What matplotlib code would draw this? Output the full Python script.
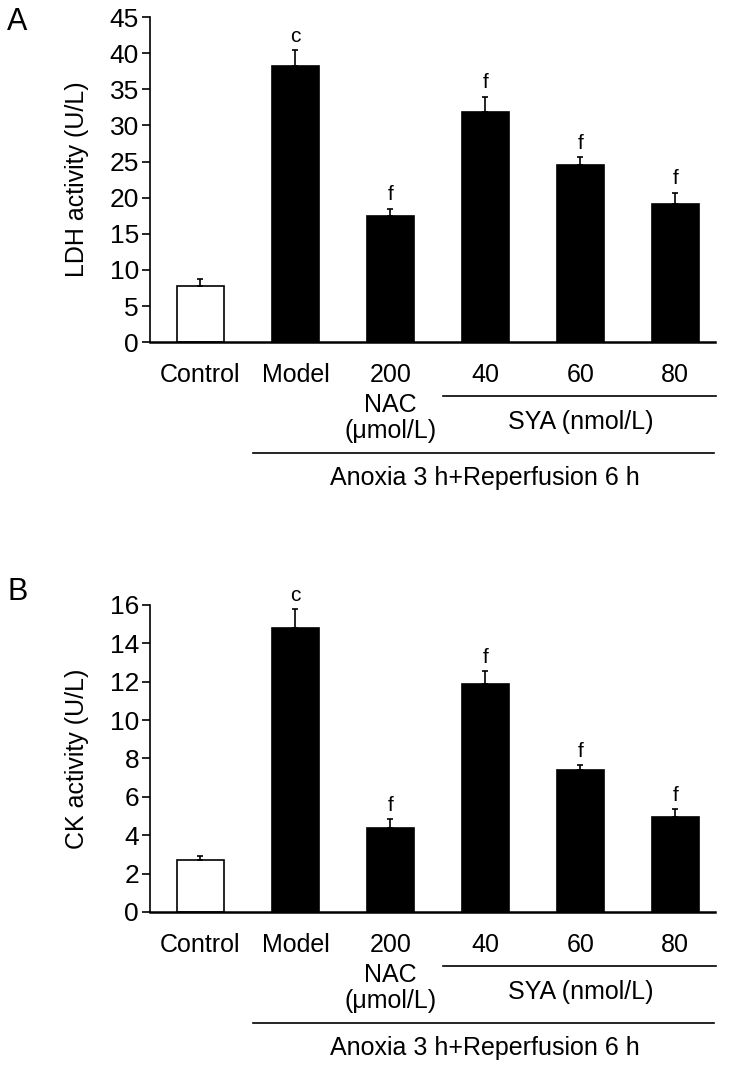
import numpy as np
import matplotlib
matplotlib.use("Agg")
import matplotlib.pyplot as plt
from matplotlib.transforms import ScaledTranslation

plt.rcParams['font.family'] = ['Liberation Sans', 'DejaVu Sans']

groups = ["Control", "Model", "200", "40", "60", "80"]
colors = ["white", "black", "black", "black", "black", "black"]

ldh_mean = [7.8, 38.2, 17.5, 31.8, 24.5, 19.1]
ldh_err = [1.0, 2.2, 1.0, 2.2, 1.1, 1.6]
ldh_sig = ["", "c", "f", "f", "f", "f"]

ck_mean = [2.7, 14.8, 4.4, 11.9, 7.4, 4.95]
ck_err = [0.2, 1.0, 0.45, 0.65, 0.25, 0.4]
ck_sig = ["", "c", "f", "f", "f", "f"]

fig = plt.figure(figsize=(7.29, 10.66), dpi=100)
FS = 18


def below(ax, px):
    # x in data, y = axis line moved down by px pixels
    return ax.get_xaxis_transform() + ScaledTranslation(0, -px / 100, fig.dpi_scale_trans)


def panel(rect, mean, err, sig, ymax, step, ylabel):
    ax = fig.add_axes(rect)
    x = np.arange(len(groups))
    ax.bar(x, mean, width=0.5, color=colors, edgecolor="black", linewidth=1.2,
           yerr=[np.zeros(len(err)), err], capsize=2,
           error_kw=dict(elinewidth=1.2, capthick=1.2, ecolor="black"))
    for xi, m, e, s in zip(x, mean, err, sig):
        if s:
            ax.annotate(s, (xi, m + e), xytext=(0, 3), textcoords="offset points",
                        ha="center", va="bottom", fontsize=15)
    ax.set_xlim(-0.53, 5.42)
    ax.set_ylim(0, ymax)
    ax.set_yticks(np.arange(0, ymax + step / 2, step))
    ax.tick_params(axis="y", direction="out", length=6, width=1.2, labelsize=19, pad=2)
    ax.tick_params(axis="x", length=0, labelbottom=False)
    for sp in ["top", "right"]:
        ax.spines[sp].set_visible(False)
    ax.spines["left"].set_linewidth(1.2)
    ax.spines["bottom"].set_linewidth(1.8)
    ax.set_ylabel(ylabel, fontsize=FS, labelpad=15)

    for xi, g in zip(x, groups):
        ax.text(xi, 0, g, transform=below(ax, 33), ha="center", va="center", fontsize=FS)
    ax.plot([2.55, 5.43], [0, 0], color="black", lw=1.2, clip_on=False, transform=below(ax, 54))
    ax.text(2, 0, "NAC", transform=below(ax, 63), ha="center", va="center", fontsize=FS)
    ax.text(2, 0, "(\u03bcmol/L)", transform=below(ax, 89), ha="center", va="center", fontsize=FS)
    ax.text(4, 0, "SYA (nmol/L)", transform=below(ax, 80), ha="center", va="center", fontsize=FS)
    ax.plot([0.55, 5.41], [0, 0], color="black", lw=1.2, clip_on=False, transform=below(ax, 111))
    ax.text(3, 0, "Anoxia 3 h+Reperfusion 6 h", transform=below(ax, 136),
            ha="center", va="center", fontsize=FS)
    return ax


panel([0.206, 0.679, 0.775, 0.305], ldh_mean, ldh_err, ldh_sig, 45, 5,
      "LDH activity (U/L)")
panel([0.206, 0.1445, 0.775, 0.288], ck_mean, ck_err, ck_sig, 16, 2,
      "CK activity (U/L)")

fig.text(0.010, 0.979, "A", fontsize=22, va="center", ha="left")
fig.text(0.010, 0.445, "B", fontsize=22, va="center", ha="left")

fig.savefig("out.png", dpi=100)
